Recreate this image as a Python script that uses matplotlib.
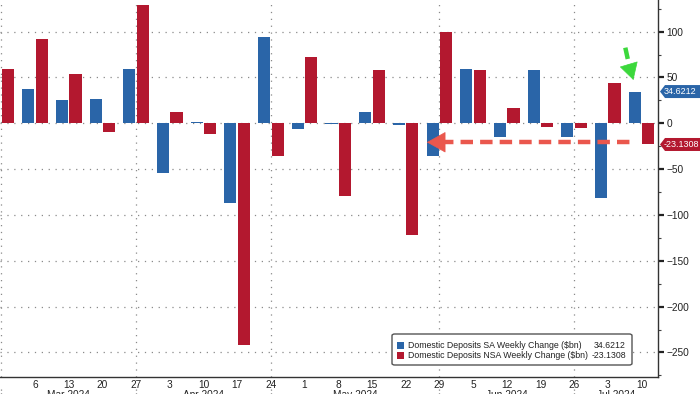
import numpy as np
import matplotlib
matplotlib.use("Agg")
import matplotlib.pyplot as plt
import matplotlib.transforms as mtransforms
from matplotlib.patches import Rectangle, FancyBboxPatch, Polygon
from matplotlib.ticker import MultipleLocator

plt.rcParams['font.family'] = ['Liberation Sans', 'DejaVu Sans']

# ---------------- data ----------------
week_labels = ['28', '6', '13', '20', '27', '3', '10', '17', '24', '1', '8',
               '15', '22', '29', '5', '12', '19', '26', '3', '10']
month_labels = ['Mar 2024', 'Apr 2024', 'May 2024', 'Jun 2024', 'Jul 2024']
month_last_week = [0, 4, 8, 13, 17]       # index of last week in preceding month
sa_change = [np.nan, 37.1, 25.1, 26.9, 58.9, -54.2, 1.8, -86.5, 94.2, -6.5, -0.7,
             12.4, -1.5, -36.0, 59.6, -14.9, 58.2, -14.9, -81.5, 34.6212]
nsa_change = [59.6, 91.6, 53.5, -9.5, 129.0, 12.7, -11.6, -242.0, -36.0, 72.0, -79.6,
              58.2, -122.0, 100.0, 58.2, 16.4, -3.6, -4.7, 44.4, -23.1308]
sa_name = 'Domestic Deposits SA Weekly Change ($bn)'
nsa_name = 'Domestic Deposits NSA Weekly Change ($bn)'
sa_last = '34.6212'
nsa_last = '-23.1308'

BLUE = '#2a65a8'
RED = '#b3182f'
GRID = '#8a8a8a'

W, H = 700, 394
fig = plt.figure(figsize=(W / 100, H / 100), dpi=100)
ax = fig.add_axes([0, 1 - 377 / H, 658 / W, 377 / H])

x = np.arange(len(week_labels))
ax.bar(x - 0.2, sa_change, 0.36, color=BLUE, zorder=3)
ax.bar(x + 0.2, nsa_change, 0.36, color=RED, zorder=3)

XMAX = 19.49
ax.set_xlim(-0.039, XMAX)
ax.set_ylim(-276.8, 134.5)

for s in ['left', 'top']:
    ax.spines[s].set_visible(False)
for s in ['right', 'bottom']:
    ax.spines[s].set_color('#333333')
    ax.spines[s].set_linewidth(1.0)

# gridlines
for yv in range(-250, 101, 50):
    ax.axhline(yv, color=GRID, lw=0.9, ls=(0, (1, 4.5)), zorder=1)
blend = mtransforms.blended_transform_factory(ax.transData, fig.transFigure)
for s in month_last_week:
    ax.axvline(s, color=GRID, lw=0.9, ls=(0, (1, 4.5)), zorder=1)
    ax.plot([s, s], [0, (H - 388) / H], transform=blend, color=GRID, lw=0.9,
            ls=(0, (1, 2)), clip_on=False)

# y axis on right
ax.yaxis.tick_right()
ax.yaxis.set_major_locator(MultipleLocator(50))
ax.yaxis.set_minor_locator(MultipleLocator(25))
ax.tick_params(axis='y', which='major', length=4, width=1.6, direction='out',
               pad=2, labelsize=7.3, colors='#222222')
ax.tick_params(axis='y', which='minor', length=2.5, width=0.8, direction='out',
               colors='#444444')

# x ticks
ax.set_xticks(x[1:])
ax.set_xticklabels(week_labels[1:])
ax.tick_params(axis='x', length=0, pad=2.5, labelsize=7.3, colors='#222222')

# month labels
bounds = month_last_week + [XMAX]
for k, lab in enumerate(month_labels):
    c = (bounds[k] + bounds[k + 1]) / 2
    ax.text(c, (H - 390) / H, lab, transform=blend, ha='center', va='top',
            fontsize=7.3, color='#222222', clip_on=False)

# right-side value tags
fig.canvas.draw()
ident = mtransforms.IdentityTransform()
for val, txt, col in [(sa_change[-1], sa_last, BLUE), (nsa_change[-1], nsa_last, RED)]:
    yc = ax.transData.transform((0, val))[1]
    poly = Polygon([(660, yc), (665, yc + 6.5), (W, yc + 6.5), (W, yc - 6.5), (665, yc - 6.5)],
                   closed=True, transform=ident, facecolor=col, edgecolor='none')
    fig.patches.append(poly)
    fig.text(664, yc, txt, transform=ident, color='white', fontsize=6.5,
             va='center', ha='left')

# annotations: red dashed arrow
ARROW_RED = '#ea574d'
ya = -20.7
ax.plot([13.05, 18.8], [ya, ya], color=ARROW_RED, lw=3.2, dashes=(2.8, 1.6),
        solid_capstyle='butt', zorder=5)
ax.annotate('', xy=(12.63, ya), xytext=(13.1, ya),
            arrowprops=dict(arrowstyle='-|>,head_length=0.9,head_width=0.5',
                            color=ARROW_RED, lw=0.5, mutation_scale=14,
                            shrinkA=0, shrinkB=0), zorder=6)
# green dashed arrow
ARROW_GREEN = '#3cd83c'
ax.plot([18.52, 18.64], [82.5, 62], color=ARROW_GREEN, lw=3.2, dashes=(2.6, 1.3),
        solid_capstyle='butt', zorder=5)
ax.annotate('', xy=(18.76, 47.2), xytext=(18.64, 62),
            arrowprops=dict(arrowstyle='-|>,head_length=0.8,head_width=0.45',
                            color=ARROW_GREEN, lw=0.5, mutation_scale=14,
                            shrinkA=0, shrinkB=0), zorder=6)

# legend (manual, figure pixels from top)
def fx(px):
    return px / W

def fy(py):
    return 1 - py / H

box = FancyBboxPatch((fx(392), fy(365)), fx(632) - fx(392), fy(334) - fy(365),
                     boxstyle='round,pad=0,rounding_size=0.004',
                     transform=fig.transFigure, facecolor='white',
                     edgecolor='#555555', lw=1.0, zorder=10)
fig.patches.append(box)
for row_y, col, name, val in [(345.5, BLUE, sa_name, sa_last), (355.5, RED, nsa_name, nsa_last)]:
    fig.patches.append(Rectangle((fx(397), fy(row_y + 3.5)), fx(7), 7 / H,
                                 transform=fig.transFigure, facecolor=col,
                                 edgecolor='none', zorder=11))
    fig.text(fx(407.5), fy(row_y), name, fontsize=6.3, color='#222222',
             va='center', ha='left', zorder=12)
    fig.text(fx(626), fy(row_y), val, fontsize=6.3, color='#222222',
             va='center', ha='right', zorder=12)

fig.savefig('out.png', dpi=100)
